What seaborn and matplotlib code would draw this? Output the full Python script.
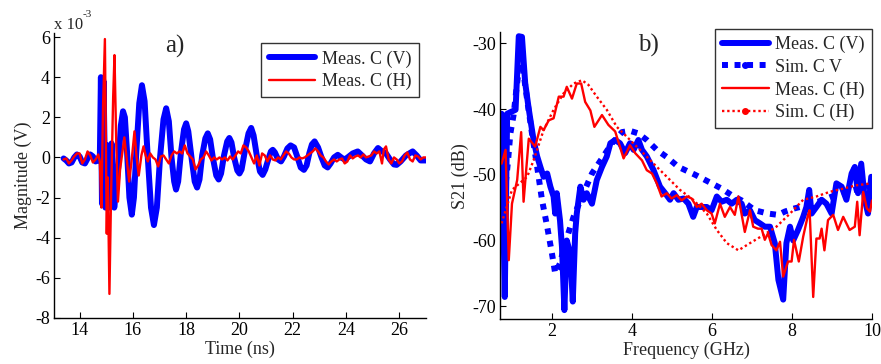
import matplotlib
matplotlib.use("Agg")
import matplotlib.pyplot as plt
import seaborn as sns
from matplotlib.lines import Line2D

# ---------------- Data: panel a) time domain (values in units of 1e-3 V) -------------
time_v = [13.40, 13.50, 13.60, 13.70, 13.80, 13.90, 14.00, 14.10, 14.20, 14.30, 14.40,
          14.50, 14.60, 14.70, 14.76, 14.80, 14.84, 14.90, 14.97, 15.05, 15.12, 15.20,
          15.30, 15.38, 15.45, 15.55, 15.63, 15.70, 15.78, 15.87, 15.96, 16.04, 16.13,
          16.24, 16.34, 16.44, 16.55, 16.68, 16.79, 16.90, 17.02, 17.15, 17.25, 17.35,
          17.45, 17.55, 17.62, 17.70, 17.80, 17.92, 18.00, 18.08, 18.20, 18.32, 18.41,
          18.50, 18.60, 18.72, 18.81, 18.90, 19.00, 19.13, 19.22, 19.31, 19.42, 19.54,
          19.62, 19.70, 19.80, 19.92, 20.00, 20.08, 20.20, 20.34, 20.44, 20.53, 20.65,
          20.77, 20.87, 20.97, 21.08, 21.18, 21.25, 21.33, 21.45, 21.56, 21.67, 21.80,
          21.92, 22.05, 22.18, 22.30, 22.42, 22.52, 22.62, 22.72, 22.82, 22.95, 23.08,
          23.20, 23.31, 23.42, 23.55, 23.69, 23.85, 23.95, 24.06, 24.25, 24.44, 24.60,
          24.75, 24.90, 25.05, 25.20, 25.35, 25.50, 25.65, 25.80, 25.90, 26.05, 26.25,
          26.50, 26.65, 26.80, 27.00]
meas_v_time = [-0.05, -0.15, -0.30, -0.25, 0.00, 0.15, 0.05, -0.25, -0.30, -0.05, 0.15,
               0.05, -0.20, -0.15, 0.00, 4.00, -2.30, 3.80, -2.50, 0.60, -2.50, 0.70,
               -2.50, -1.50, -0.50, 1.60, 2.30, 2.00, 0.30, -2.00, -2.85, -2.00, 0.30,
               2.70, 3.60, 2.80, 0.20, -2.50, -3.37, -2.50, 0.00, 1.90, 2.45, 1.80,
               0.00, -1.20, -1.60, -1.20, 0.20, 1.40, 1.70, 1.30, 0.00, -1.20, -1.50,
               -1.10, 0.10, 0.95, 1.20, 0.90, 0.00, -0.90, -1.10, -0.80, 0.10, 0.80,
               0.97, 0.75, 0.00, -0.65, -0.80, -0.60, 0.30, 1.20, 1.47, 1.10, 0.10,
               -0.70, -0.87, -0.60, -0.10, 0.30, 0.38, 0.25, -0.10, -0.20, 0.05, 0.45,
               0.60, 0.50, 0.00, -0.50, -0.62, -0.40, 0.20, 0.65, 0.80, 0.50, 0.00,
               -0.40, -0.50, -0.30, 0.00, 0.13, -0.03, -0.10, 0.00, 0.20, 0.30, 0.10,
               -0.10, -0.20, 0.20, 0.47, 0.30, 0.20, -0.10, -0.35, -0.37, -0.20, 0.10,
               0.30, 0.10, -0.15, -0.15]

time_h = [13.40, 13.50, 13.60, 13.70, 13.80, 13.90, 14.00, 14.10, 14.20, 14.30, 14.40,
          14.50, 14.60, 14.70, 14.76, 14.82, 14.88, 14.95, 15.02, 15.06, 15.12, 15.18,
          15.26, 15.31, 15.38, 15.44, 15.52, 15.60, 15.68, 15.76, 15.86, 15.95, 16.06,
          16.14, 16.22, 16.32, 16.40, 16.48, 16.56, 16.65, 16.75, 16.85, 16.95, 17.05,
          17.15, 17.25, 17.35, 17.45, 17.55, 17.65, 17.75, 17.85, 17.95, 18.05, 18.15,
          18.25, 18.35, 18.45, 18.55, 18.65, 18.75, 18.85, 18.95, 19.05, 19.15, 19.25,
          19.35, 19.45, 19.55, 19.65, 19.75, 19.85, 19.95, 20.05, 20.15, 20.25, 20.35,
          20.45, 20.55, 20.65, 20.75, 20.85, 20.95, 21.05, 21.15, 21.25, 21.35, 21.45,
          21.55, 21.65, 21.75, 21.85, 21.95, 22.05, 22.15, 22.25, 22.35, 22.45, 22.55,
          22.65, 22.75, 22.85, 22.95, 23.05, 23.15, 23.25, 23.35, 23.45, 23.55, 23.65,
          23.75, 23.85, 23.95, 24.05, 24.15, 24.25, 24.35, 24.45, 24.55, 24.65, 24.75,
          24.85, 24.95, 25.05, 25.15, 25.25, 25.35, 25.42, 25.50, 25.60, 25.70, 25.80,
          25.90, 26.00, 26.10, 26.20, 26.30, 26.40, 26.50, 26.60, 26.70, 26.80, 26.90,
          27.00]
meas_h_time = [-0.10, -0.05, -0.30, -0.15, 0.05, 0.20, 0.20, -0.30, -0.10, 0.30, 0.10,
               -0.25, -0.10, 0.15, -0.20, -2.50, 2.50, 5.90, -3.80, -1.00, -6.80, -2.00,
               3.00, 5.10, 0.50, -2.20, -0.60, 0.20, 1.00, 0.00, -1.20, -0.20, 1.30,
               0.00, -0.90, 0.10, 0.55, 0.10, -0.20, 0.20, 0.00, -0.10, -0.45, 0.05,
               0.10, -0.10, -0.30, 0.10, 0.30, 0.20, 0.30, 0.20, 0.60, 0.20, 0.05,
               -0.10, -0.60, -0.40, -0.10, 0.00, 0.30, 0.10, -0.15, 0.00, -0.10, 0.00,
               -0.10, 0.00, -0.15, 0.05, -0.10, 0.10, 0.30, 0.20, 0.60, 0.50, 0.30,
               0.00, -0.30, 0.10, -0.40, 0.20, 0.10, -0.20, 0.10, -0.10, -0.15, 0.00,
               -0.10, 0.10, 0.30, 0.20, 0.00, -0.10, -0.10, 0.00, -0.05, 0.00, 0.10,
               0.20, 0.30, 0.45, 0.30, 0.10, 0.00, -0.20, -0.35, -0.20, -0.10, -0.20,
               -0.10, -0.05, -0.30, -0.20, 0.10, -0.05, 0.05, 0.10, 0.00, 0.15, 0.00,
               0.05, 0.10, 0.30, 0.20, 0.30, -0.30, 0.40, 0.55, -0.10, -0.30, 0.00,
               -0.10, -0.30, -0.20, 0.10, 0.25, -0.10, -0.20, 0.10, 0.05, -0.10, 0.00,
               0.00]

# ---------------- Data: panel b) S21 (dB) vs frequency (GHz) --------------------------
freq_meas_v = [0.74, 0.82, 0.88, 1.09, 1.17, 1.25, 1.33, 1.42, 1.54, 1.63, 1.71, 1.79,
               1.88, 1.96, 2.04, 2.08, 2.12, 2.20, 2.25, 2.31, 2.37, 2.46, 2.52, 2.58,
               2.62, 2.71, 2.79, 2.87, 3.00, 3.12, 3.25, 3.37, 3.46, 3.58, 3.70, 3.83,
               3.95, 4.04, 4.16, 4.25, 4.37, 4.54, 4.70, 4.83, 4.95, 5.04, 5.16, 5.29,
               5.41, 5.53, 5.62, 5.74, 5.87, 5.99, 6.12, 6.24, 6.37, 6.49, 6.62, 6.74,
               6.82, 6.95, 7.07, 7.20, 7.32, 7.45, 7.57, 7.66, 7.78, 7.86, 7.95, 8.03,
               8.15, 8.28, 8.36, 8.43, 8.49, 8.61, 8.74, 8.86, 8.99, 9.11, 9.24, 9.36,
               9.49, 9.57, 9.65, 9.73, 9.82, 9.90, 9.98]
s21_meas_v = [-40.7, -68.6, -40.7, -40.1, -28.9, -29.0, -36.0, -40.0, -44.7, -47.2, -48.8,
              -50.3, -49.8, -51.8, -53.3, -55.9, -52.8, -56.9, -61.0, -70.6, -60.0, -62.0,
              -69.3, -58.9, -55.9, -51.8, -53.8, -52.8, -54.4, -50.8, -48.8, -47.2, -45.2,
              -44.7, -45.2, -46.7, -45.2, -46.2, -44.7, -46.2, -47.2, -49.3, -51.8, -52.8,
              -53.8, -52.8, -53.8, -53.6, -54.4, -56.4, -54.9, -54.9, -54.9, -55.4, -53.3,
              -54.1, -53.8, -54.4, -53.8, -54.4, -55.9, -55.4, -56.9, -57.4, -57.9, -57.9,
              -60.4, -66.0, -69.0, -60.4, -57.9, -60.0, -58.4, -56.4, -54.9, -52.3, -55.9,
              -54.9, -53.8, -54.4, -55.9, -51.3, -51.8, -53.8, -49.8, -48.8, -52.8, -48.3,
              -53.8, -55.9, -50.3]

freq_sim_v = [0.75, 0.90, 0.96, 1.04, 1.12, 1.21, 1.30, 1.38, 1.50, 1.63, 1.75, 1.88,
              2.00, 2.08, 2.20, 2.33, 2.54, 2.75, 3.00, 3.25, 3.50, 3.75, 3.95, 4.16,
              4.37, 4.62, 4.87, 5.16, 5.58, 5.99, 6.24, 6.49, 6.74, 7.07, 7.40, 7.65,
              7.82, 8.07, 8.40, 8.70, 9.00, 9.50, 10.00]
s21_sim_v = [-56.9, -48.0, -43.7, -40.9, -36.5, -32.0, -35.0, -38.6, -43.7, -48.8, -53.8,
             -57.9, -62.0, -65.0, -63.5, -60.4, -56.4, -53.3, -49.8, -47.5, -45.2, -43.5,
             -43.3, -43.7, -44.7, -46.2, -47.3, -48.8, -50.0, -51.3, -52.1, -53.1, -53.9,
             -55.4, -55.9, -56.1, -55.6, -55.1, -54.6, -54.0, -53.3, -52.4, -51.6]

freq_meas_h = [0.74, 0.84, 0.92, 1.00, 1.13, 1.23, 1.29, 1.42, 1.58, 1.71, 1.79, 1.92,
               2.04, 2.17, 2.29, 2.37, 2.50, 2.62, 2.73, 2.83, 2.96, 3.06, 3.25, 3.41,
               3.58, 3.79, 3.95, 4.08, 4.25, 4.37, 4.50, 4.62, 4.74, 4.87, 4.99, 5.12,
               5.24, 5.37, 5.49, 5.62, 5.74, 5.87, 5.99, 6.07, 6.20, 6.32, 6.45, 6.57,
               6.66, 6.82, 6.95, 7.03, 7.15, 7.24, 7.32, 7.40, 7.49, 7.61, 7.70, 7.78,
               7.90, 7.99, 8.05, 8.17, 8.28, 8.40, 8.44, 8.53, 8.61, 8.69, 8.74, 8.81,
               8.90, 9.03, 9.15, 9.28, 9.44, 9.57, 9.63, 9.69, 9.78, 9.87, 9.95, 10.00]
s21_meas_h = [-48.3, -46.2, -63.0, -54.4, -50.8, -43.5, -54.1, -44.5, -45.7, -42.7, -43.2,
              -41.7, -41.4, -38.1, -38.1, -36.6, -38.4, -36.1, -36.1, -38.9, -40.2, -42.7,
              -40.9, -42.4, -43.4, -47.5, -45.5, -46.7, -47.8, -49.3, -49.8, -51.3, -53.3,
              -52.8, -53.6, -53.1, -53.9, -53.3, -53.6, -54.9, -54.4, -55.4, -55.9, -57.4,
              -54.4, -56.4, -54.9, -56.1, -53.3, -58.7, -55.4, -57.9, -58.2, -58.2, -59.9,
              -58.9, -60.7, -61.5, -60.2, -65.5, -63.2, -63.2, -59.9, -63.2, -59.4, -56.1,
              -55.4, -68.6, -59.7, -59.7, -58.2, -61.5, -56.9, -56.1, -58.4, -56.4, -58.4,
              -57.9, -54.1, -59.2, -52.6, -55.1, -55.6, -53.9]

freq_sim_h = [0.74, 1.00, 1.38, 1.54, 1.79, 2.04, 2.29, 2.54, 2.75, 2.91, 3.12, 3.37,
              3.62, 3.87, 4.20, 4.54, 4.87, 5.20, 5.53, 5.87, 6.12, 6.37, 6.66, 6.95,
              7.28, 7.61, 7.95, 8.28, 8.61, 8.94, 9.28, 9.61, 9.98]
s21_sim_h = [-57.4, -52.3, -50.3, -47.8, -43.2, -40.1, -37.6, -36.1, -35.6, -36.3, -38.1,
             -40.1, -42.7, -44.2, -46.2, -48.3, -50.3, -52.3, -53.8, -55.9, -58.4, -60.4,
             -61.5, -60.4, -59.2, -57.9, -55.9, -53.8, -53.3, -52.6, -52.1, -51.6, -51.3]

labels_a = ["Meas. C (V)", "Meas. C (H)"]
labels_b = ["Meas. C (V)", "Sim. C V", "Meas. C (H)", "Sim. C (H)"]
xticks_a = [14, 16, 18, 20, 22, 24, 26]
yticks_a = [-8, -6, -4, -2, 0, 2, 4, 6]
xticks_b = [2, 4, 6, 8, 10]
yticks_b = [-70, -60, -50, -40, -30]

# ---------------- Style --------------------------------------------------------------
sns.set_theme(style="white")
plt.rcParams["font.family"] = ["Liberation Serif", "DejaVu Serif"]
plt.rcParams["axes.unicode_minus"] = False
FS = 13
BLUE = (0, 0, 1)
RED = (1, 0, 0)
LW_THICK = 4.3
LW_THIN = 1.7
DOT_BLUE = (0, (1, 1.1))
DOT_RED = (0, (1, 1.2))

fig = plt.figure(figsize=(8.81, 3.64), dpi=100)
ax1 = fig.add_axes([0.0613, 0.1264, 0.4222, 0.7829])
ax2 = fig.add_axes([0.5675, 0.1228, 0.4223, 0.7885])

# ---- Panel a)
sns.lineplot(x=time_v, y=meas_v_time, ax=ax1, color=BLUE, lw=LW_THICK, sort=False,
             estimator=None, legend=False)
sns.lineplot(x=time_h, y=meas_h_time, ax=ax1, color=RED, lw=LW_THIN, sort=False,
             estimator=None, legend=False)
ax1.set_xlim(13.04, 27)
ax1.set_ylim(-8, 6.2)
ax1.set_xticks(xticks_a)
ax1.set_yticks(yticks_a)
ax1.set_xlabel("Time (ns)", fontsize=FS, labelpad=1)
ax1.set_ylabel("Magnitude (V)", fontsize=FS, labelpad=2)
ax1.text(0.325, 0.953, "a)", transform=ax1.transAxes, fontsize=18, ha="center", va="center")
ax1.text(0.0, 1.0, "x 10", transform=ax1.transAxes, fontsize=12, ha="left", va="bottom")
ax1.text(0.078, 1.05, "-3", transform=ax1.transAxes, fontsize=8, ha="left", va="bottom")
h_a = [Line2D([0], [0], color=BLUE, lw=LW_THICK), Line2D([0], [0], color=RED, lw=LW_THIN)]
leg1 = ax1.legend(h_a, labels_a, loc="upper right", bbox_to_anchor=(0.98, 0.965),
                  fontsize=FS, frameon=True, fancybox=False, edgecolor="black",
                  handlelength=2.6, handletextpad=0.35, borderpad=0.4, labelspacing=0.3,
                  borderaxespad=0.0)
leg1.get_frame().set_linewidth(1.0)

# ---- Panel b)
sns.lineplot(x=freq_meas_v, y=s21_meas_v, ax=ax2, color=BLUE, lw=LW_THICK, sort=False,
             estimator=None, legend=False)
sns.lineplot(x=freq_sim_v, y=s21_sim_v, ax=ax2, color=BLUE, lw=LW_THICK, sort=False,
             estimator=None, legend=False, linestyle=DOT_BLUE)
sns.lineplot(x=freq_meas_h, y=s21_meas_h, ax=ax2, color=RED, lw=LW_THIN, sort=False,
             estimator=None, legend=False)
sns.lineplot(x=freq_sim_h, y=s21_sim_h, ax=ax2, color=RED, lw=LW_THIN, sort=False,
             estimator=None, legend=False, linestyle=DOT_RED)
ax2.set_xlim(0.7, 10)
ax2.set_ylim(-72, -28.3)
ax2.set_xticks(xticks_b)
ax2.set_yticks(yticks_b)
ax2.set_xlabel("Frequency (GHz)", fontsize=FS, labelpad=1)
ax2.set_ylabel("S21 (dB)", fontsize=FS, labelpad=2)
ax2.text(0.40, 0.953, "b)", transform=ax2.transAxes, fontsize=18, ha="center", va="center")
h_b = [Line2D([0], [0], color=BLUE, lw=LW_THICK),
       Line2D([0], [0], color=BLUE, lw=LW_THICK, linestyle=DOT_BLUE, marker="o", ms=4),
       Line2D([0], [0], color=RED, lw=LW_THIN),
       Line2D([0], [0], color=RED, lw=LW_THIN, linestyle=DOT_RED, marker="o", ms=4)]
leg2 = ax2.legend(h_b, labels_b, loc="upper right", bbox_to_anchor=(1.0, 1.012),
                  fontsize=FS, frameon=True, fancybox=False, edgecolor="black",
                  handlelength=2.6, handletextpad=0.35, borderpad=0.4, labelspacing=0.3,
                  borderaxespad=0.0, numpoints=1)
leg2.get_frame().set_linewidth(1.0)

for ax in (ax1, ax2):
    for s in ("top", "right"):
        ax.spines[s].set_visible(False)
    for s in ("left", "bottom"):
        ax.spines[s].set_color("black")
        ax.spines[s].set_linewidth(1.0)
    ax.tick_params(direction="in", length=4, width=0.8, labelsize=FS, colors="black",
                   left=True, bottom=True, top=False, right=False, pad=3)
    ax.set_facecolor("white")
    ax.grid(False)

fig.savefig("out.png", dpi=100, facecolor="white")
